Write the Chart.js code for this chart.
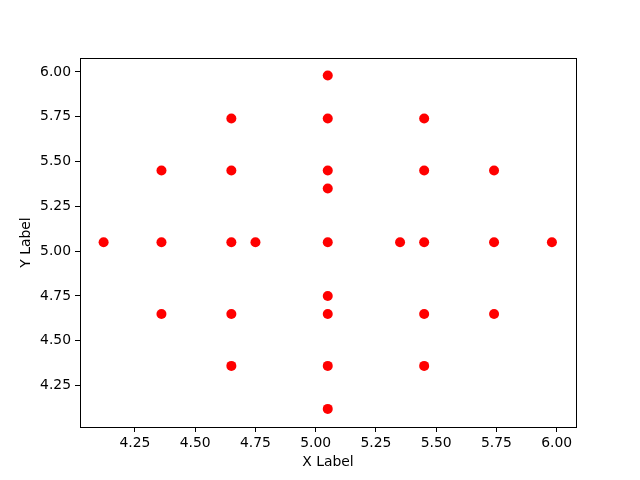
<!DOCTYPE html>
<html>
<head>
<meta charset="utf-8">
<script src="https://cdn.jsdelivr.net/npm/chart.js@4"></script>
<style>
  html, body { margin: 0; padding: 0; background: #fff; }
  #wrap { width: 640px; height: 480px; }
</style>
</head>
<body>
<div id="wrap"><canvas id="scatterChart" width="640" height="480"></canvas></div>
<script>
// scatter points
const xValues = [
    5.05,
    4.65, 5.05, 5.45,
    4.36, 4.65, 5.05, 5.45, 5.74,
    5.05,
    4.12, 4.36, 4.65, 4.75, 5.05, 5.35, 5.45, 5.74, 5.98,
    5.05,
    4.36, 4.65, 5.05, 5.45, 5.74,
    4.65, 5.05, 5.45,
    5.05,
];
const yValues = [
    5.98,
    5.74, 5.74, 5.74,
    5.45, 5.45, 5.45, 5.45, 5.45,
    5.35,
    5.05, 5.05, 5.05, 5.05, 5.05, 5.05, 5.05, 5.05, 5.05,
    4.75,
    4.65, 4.65, 4.65, 4.65, 4.65,
    4.36, 4.36, 4.36,
    4.12,
];
const xTicks = [4.25, 4.5, 4.75, 5.0, 5.25, 5.5, 5.75, 6.0];
const yTicks = [4.25, 4.5, 4.75, 5.0, 5.25, 5.5, 5.75, 6.0];

const points = xValues.map((x, i) => ({ x: x, y: yValues[i] }));

Chart.defaults.font.family = "DejaVu Sans";
Chart.defaults.font.size = 13.9;
Chart.defaults.color = "#000";

// matplotlib-style box around the plot area
const frame = {
    id: "frame",
    afterDraw(chart) {
        const a = chart.chartArea;
        const ctx = chart.ctx;
        ctx.save();
        ctx.strokeStyle = "#000";
        ctx.lineWidth = 1;
        ctx.strokeRect(a.left + 0.5, a.top + 0.5, a.right - a.left, a.bottom - a.top);
        ctx.restore();
    },
};

const ctx = document.getElementById("scatterChart").getContext("2d");
new Chart(ctx, {
    type: "scatter",
    data: {
        datasets: [
            {
                data: points,
                backgroundColor: "#ff0000",
                borderColor: "#ff0000",
                pointRadius: 5,
                pointHoverRadius: 5,
                borderWidth: 0,
            },
        ],
    },
    options: {
        responsive: false,
        animation: false,
        layout: { padding: { left: 0, top: 58, right: 64, bottom: 0 } },
        plugins: { legend: { display: false }, tooltip: { enabled: false } },
        scales: {
            x: {
                type: "linear",
                min: 4.022,
                max: 6.08,
                afterBuildTicks: (s) => { s.ticks = xTicks.map((v) => ({ value: v })); },
                afterFit: (s) => { s.height = 53; },
                grid: { drawOnChartArea: false, drawTicks: true, tickLength: 5, color: "#000" },
                border: { color: "#000" },
                ticks: { padding: 3, maxRotation: 0, callback: (v) => v.toFixed(2) },
                title: { display: true, text: "X Label", padding: { top: 2, bottom: 9 } },
            },
            y: {
                type: "linear",
                min: 4.019,
                max: 6.078,
                afterBuildTicks: (s) => { s.ticks = yTicks.map((v) => ({ value: v })); },
                afterFit: (s) => { s.width = 80; },
                grid: { drawOnChartArea: false, drawTicks: true, tickLength: 5, color: "#000" },
                border: { color: "#000" },
                ticks: { padding: 4, callback: (v) => v.toFixed(2) },
                title: { display: true, text: "Y Label", padding: { top: 18, bottom: 0 } },
            },
        },
    },
    plugins: [frame],
});
</script>
</body>
</html>
